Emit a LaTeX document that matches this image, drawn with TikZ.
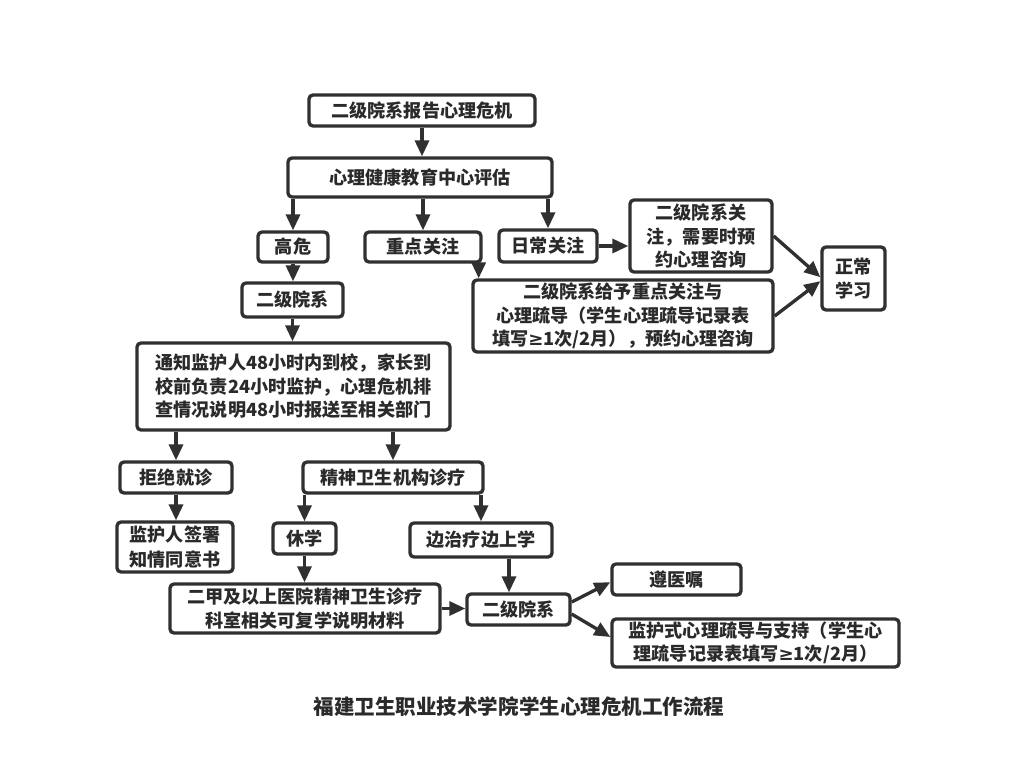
\documentclass[tikz,border=0pt]{standalone}
\usepackage{fontspec}
\setmainfont{Noto Sans CJK SC}
\newfontfamily\symf{DejaVu Sans}
\usetikzlibrary{arrows.meta,calc}
\definecolor{linec}{HTML}{303030}
\definecolor{textc}{HTML}{2A2A2A}
\newcommand{\mygeq}{{\symf ≥}}
\tikzset{
  box/.style={draw=linec, line width=2.5pt, rounded corners=3pt, fill=white,
    inner sep=0pt, align=center, text=textc,
    font=\fontsize{13.6}{17.6}\selectfont\bfseries},
  arr/.style={draw=linec, line width=2.5pt,
    -{Triangle[length=12pt,width=10.5pt]}},
  sz/.style 2 args={minimum width={#1*0.75pt}, minimum height={#2*0.75pt}},
}
\begin{document}
\begin{tikzpicture}[x=0.75pt,y=-0.75pt]
\useasboundingbox[fill=white] (0,0) rectangle (1024,763);
% top
\node[box,sz={226}{31}] (n1) at (422,110.5) {二级院系报告心理危机};
\node[box,sz={264}{39}] (n2) at (420,177.5) {心理健康教育中心评估};
\node[box,sz={70}{30}] (gw) at (293,247) {高危};
\node[box,sz={116}{30}] (zd) at (423,247) {重点关注};
\node[box,sz={98}{32}] (rc) at (548,246) {日常关注};
\node[box,sz={142}{72}] (gz) at (701,236) {二级院系关\\注，需要时预\\约心理咨询};
\node[box,sz={63}{63}] (zc) at (853.5,278.5) {正常\\学习};
\node[box,sz={300}{72}] (zdgz) at (623,316) {二级院系给予重点关注与\\心理疏导（学生心理疏导记录表\\填写\mygeq1次/2月），预约心理咨询};
% left branch
\node[box,sz={101}{34}] (ej2) at (292.5,300) {二级院系};
\node[box,sz={313}{87}] (tz) at (293.5,386.5) {通知监护人48小时内到校，家长到\\校前负责24小时监护，心理危机排\\查情况说明48小时报送至相关部门};
\node[box,sz={112}{31}] (jj) at (176,477.5) {拒绝就诊};
\node[box,sz={180}{31}] (js) at (393,477.5) {精神卫生机构诊疗};
\node[box,sz={116}{50},font=\fontsize{13.6}{18.5}\selectfont\bfseries] (jh) at (175,547) {监护人签署\\知情同意书};
\node[box,sz={63}{31}] (xx) at (304.5,538.5) {休学};
\node[box,sz={142}{34}] (bz) at (481,540) {边治疗边上学};
\node[box,sz={270}{49}] (ej) at (305,608.5) {二甲及以上医院精神卫生诊疗\\科室相关可复学说明材料};
\node[box,sz={103}{31}] (ej3) at (518.5,609.5) {二级院系};
\node[box,sz={129}{31}] (zy) at (676.5,579.5) {遵医嘱};
\node[box,sz={287}{48}] (jhs) at (755.5,643) {监护式心理疏导与支持（学生心\\理疏导记录表填写\mygeq1次/2月）};
\node[text=textc,font=\fontsize{15.4}{18}\selectfont\bfseries] (title) at (519,707) {福建卫生职业技术学院学生心理危机工作流程};
% arrows
\draw[arr] (n1.south) -- (n1.south |- n2.north);
\draw[arr] (n2.south -| gw) -- (gw.north);
\draw[arr] (n2.south -| zd) -- (zd.north);
\draw[arr] (n2.south -| rc) -- (rc.north);
\draw[arr] (rc.east) -- (rc.east -| gz.west);
\draw[arr] ([xshift=-3pt]zd.south east) -- ([xshift=-3pt]zd.south east |- zdgz.north);
\draw[arr] (gz.east) -- ([yshift=1pt]zc.west);
\draw[arr] (zdgz.east) -- ([yshift=-2pt]zc.west);
\draw[arr] (gw.south) -- (gw.south |- ej2.north);
\draw[arr] (ej2.south) -- (ej2.south |- tz.north);
\draw[arr] (tz.south -| jj) -- (jj.north);
\draw[arr] (tz.south -| js) -- (js.north);
\draw[arr] (jj.south) -- (jj.south |- jh.north);
\draw[arr] (js.south -| xx) -- (xx.north);
\draw[arr] (js.south -| bz) -- (bz.north);
\draw[arr] (xx.south) -- (xx.south |- ej.north);
\draw[arr] ([xshift=21pt]bz.south) -- ([xshift=21pt]bz.south |- ej3.north);
\draw[arr] (ej.east) -- (ej.east -| ej3.west);
\draw[arr] ([yshift=5.6pt]ej3.east) -- ([yshift=-2pt]zy.west);
\draw[arr] ([yshift=-3.4pt]ej3.east) -- ([yshift=4.5pt]jhs.west);
\end{tikzpicture}
\end{document}
